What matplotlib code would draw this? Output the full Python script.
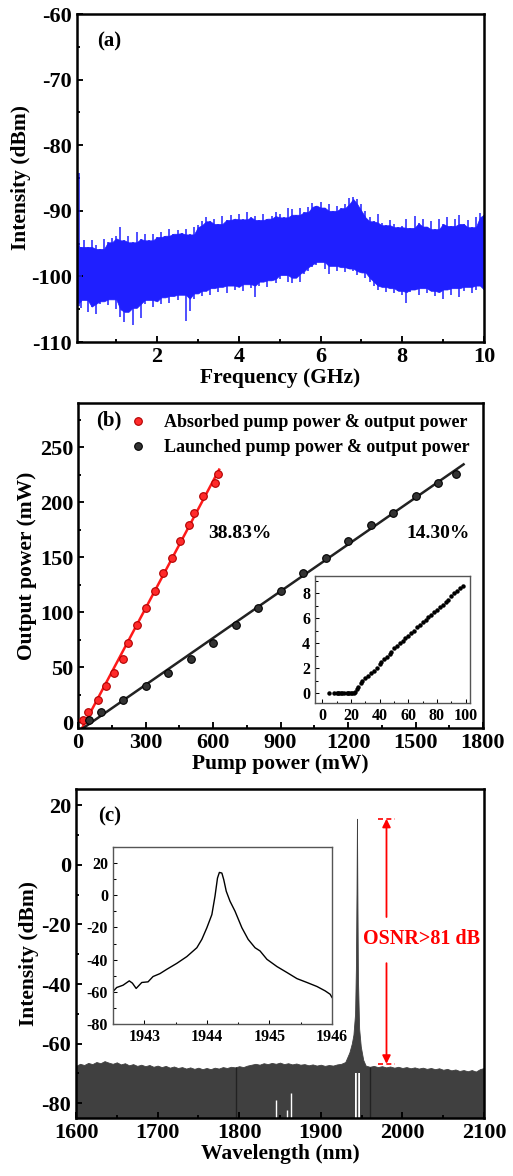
import numpy as np
import matplotlib
matplotlib.use("Agg")
import matplotlib.pyplot as plt
from matplotlib.ticker import MultipleLocator

plt.rcParams["font.family"] = ["Liberation Serif", "DejaVu Serif"]
plt.rcParams["font.weight"] = "bold"
plt.rcParams["axes.labelweight"] = "bold"
plt.rcParams["axes.unicode_minus"] = False

# ---------------- (a) RF spectrum: upper / lower envelope of the noise trace
freq_a = [0.05, 0.1, 0.15, 0.2, 0.3, 0.4, 0.5, 0.6, 0.7, 0.8, 0.9, 1.0,
          1.1, 1.2, 1.3, 1.4, 1.5, 1.6, 1.7, 1.8, 1.9, 2.0,
          2.1, 2.2, 2.3, 2.4, 2.5, 2.6, 2.7, 2.8, 2.9, 3.0,
          3.1, 3.2, 3.3, 3.4, 3.5, 3.6, 3.7, 3.8, 3.9, 4.0,
          4.1, 4.2, 4.3, 4.4, 4.5, 4.6, 4.7, 4.8, 4.9, 5.0,
          5.1, 5.2, 5.3, 5.4, 5.5, 5.6, 5.7, 5.8, 5.9, 6.0,
          6.1, 6.2, 6.3, 6.4, 6.5, 6.6, 6.7, 6.8, 6.9, 7.0,
          7.1, 7.2, 7.3, 7.4, 7.5, 7.6, 7.7, 7.8, 7.9, 8.0,
          8.1, 8.2, 8.3, 8.4, 8.5, 8.6, 8.7, 8.8, 8.9, 9.0,
          9.1, 9.2, 9.3, 9.4, 9.5, 9.6, 9.7, 9.8, 9.9, 10.0]
upper_a = [-95, -84.3, -95.5, -94.5, -95.5, -94.5, -95.2, -95.8, -94.3, -94.8, -94.2, -93.8,
           -92.5, -94.5, -93.8, -94.8, -93.2, -94.3, -93.5, -94.5, -93.6, -94,
           -93.2, -93.8, -92.8, -93.5, -93, -93.4, -92.8, -93.6, -92.5, -92.2,
           -91.5, -91, -91.6, -91.2, -92, -90.8, -91.4, -90.6, -91.2, -90.5,
           -91.3, -90.2, -91, -90.8, -91.4, -90.5, -91.2, -90.8, -90.2, -90.5,
           -91, -89.5, -89.8, -90.6, -89.6, -90.2, -89.4, -88.8, -89.2, -88.6,
           -89.5, -89, -90, -89.2, -89.6, -89, -88, -87.9, -88.2, -89,
           -90, -91, -91.6, -90.5, -91.8, -92.2, -91.4, -92, -92.5, -92.3,
           -91.2, -92.6, -90.8, -91.9, -91.2, -92.4, -91.5, -92.8, -91.3, -92,
           -91, -92.3, -91.2, -90.6, -92, -91.4, -92.5, -91, -90.4, -90.6]
lower_a = [-104, -104.5, -104.8, -103.6, -105.4, -104.6, -105.7, -104.2, -103.8, -104.4, -103.5, -105,
           -106.2, -107, -105.4, -107.4, -104.8, -106.3, -104.2, -103.6, -104.6, -103.8,
           -104.2, -103.2, -104, -103, -103.6, -102.8, -106.8, -105.2, -103.4, -102.6,
           -103, -102.2, -102.8, -101.8, -102.4, -101.6, -102.6, -101.4, -102, -101.6,
           -102.2, -101.2, -101.8, -103.1, -101.4, -100.8, -101.6, -100.6, -101, -100.4,
           -99.8, -100.8, -101, -100.2, -100.8, -99.6, -99.2, -98.6, -98.2, -97.8,
           -98.8, -99.6, -98.4, -99.2, -98.6, -99.4, -98.8, -99.2, -99.8, -99.4,
           -100.2, -100.8, -101.4, -102, -101.6, -102.4, -101.8, -102.6, -102.2, -102.8,
           -104.1, -102.4, -102, -102.8, -101.8, -102.6, -102.2, -103, -102.4, -103.4,
           -102, -102.8, -101.8, -103.2, -102.2, -101.6, -102.6, -102, -101.4, -102]

# ---------------- (b) slope efficiency
output_power = [2.7, 9.6, 20.7, 33, 44.7, 57.5, 72, 88.4, 104, 119.6,
                135.5, 149.6, 165, 179, 190, 206, 217, 226]
absorbed_pump = [21, 45, 88, 125, 160, 202, 223, 263, 300, 340,
                 377, 416, 453, 493, 516, 554, 608, 624]
launched_pump = [50, 100, 200, 300, 400, 500, 600, 700, 800, 900,
                 1000, 1100, 1200, 1300, 1400, 1500, 1600, 1680]
eff_labels = ["38.83%", "14.30%"]

# inset (b): low power threshold region
inset_pump = [5, 8, 10, 11, 12, 13, 14, 15, 17, 18, 19, 20, 21, 22,
              23, 24, 25, 27, 28, 30, 32, 34, 36, 38, 40, 41, 43, 45, 47, 48,
              50, 52, 54, 56, 58, 60, 62, 64, 66, 68, 70, 72, 74, 76, 78,
              80, 82, 84, 86, 88, 90, 92, 94, 96, 98]
inset_out = [0, 0, 0, 0, 0, 0, 0, 0, 0, 0, 0, 0, 0, 0,
             0.1, 0.3, 0.5, 0.8, 1.0, 1.2, 1.4, 1.6, 1.8, 2.0, 2.3, 2.5, 2.7, 2.9, 3.1, 3.3,
             3.6, 3.8, 4.0, 4.2, 4.4, 4.6, 4.8, 5.0, 5.3, 5.5, 5.7, 5.9, 6.1, 6.3, 6.5,
             6.7, 6.9, 7.1, 7.3, 7.5, 7.8, 8.0, 8.2, 8.4, 8.6]

# ---------------- (c) optical spectrum (noise floor envelope incl. laser line)
wl_c = [1600, 1605, 1610, 1615, 1620, 1625, 1630, 1635, 1640, 1645, 1650, 1655, 1660, 1665,
        1670, 1675, 1680, 1685, 1690, 1695, 1700, 1705, 1710, 1715, 1720, 1725, 1730, 1735,
        1740, 1745, 1750, 1755, 1760, 1765, 1770, 1775, 1780, 1785, 1790, 1795, 1800, 1805,
        1810, 1815, 1820, 1825, 1830, 1835, 1840, 1845, 1850, 1855, 1860, 1865, 1870, 1875,
        1880, 1885, 1890, 1895, 1900, 1905, 1910, 1915, 1920, 1925, 1930, 1935, 1938, 1940,
        1942, 1943, 1943.8, 1944.3, 1944.8, 1945.5, 1947, 1949, 1952, 1955, 1960, 1965, 1970,
        1975, 1980, 1985, 1990, 1995, 2000, 2005, 2010, 2015, 2020, 2025, 2030, 2035, 2040,
        2045, 2050, 2055, 2060, 2065, 2070, 2075, 2080, 2085, 2090, 2095, 2100]
db_c = [-67.5, -66.8, -67.2, -66.5, -66.9, -66.2, -66.6, -65.9, -66.4, -66.8, -66.3, -67, -66.6, -67.3,
        -66.9, -67.5, -67.1, -67.6, -67.2, -67.8, -67.4, -67.9, -67.5, -68.1, -67.7, -68.2, -67.9, -68.4,
        -68, -68.5, -68.1, -68.6, -68.2, -68.6, -68.1, -68.4, -67.9, -68.2, -67.8, -68, -67.6, -67.9,
        -67.4, -67.1, -66.8, -67.1, -66.6, -66.9, -66.5, -66.8, -66.4, -66.9, -66.6, -67, -66.7, -67.1,
        -66.9, -67.3, -67, -67.4, -67.1, -67.5, -67.2, -67.4, -67, -66.8, -66.2, -63, -60, -57,
        -50, -35, -8, 15.5, -8, -38, -55, -61, -65.5, -67.4, -67.8, -67.5, -67.9,
        -67.6, -68, -67.7, -68.1, -67.8, -68.2, -67.9, -68.3, -68, -68.4, -68.1, -68.5, -68.2, -68.6,
        -68.3, -68.8, -68.5, -69, -68.7, -69.2, -68.9, -69.3, -68.9, -69.4, -68.6, -68.2]
gap_wl = [1845, 1859, 1864]
gap_db = [-78.8, -82.2, -76.6]
dark_wl = [1796, 1960]
osnr_top = 15.5
osnr_bottom = -66.8

# inset (c): zoom of the laser line
wl_in = [1942.5, 1942.56, 1942.66, 1942.76, 1942.81, 1942.87, 1942.96, 1943.06, 1943.14,
         1943.25, 1943.36, 1943.52, 1943.68, 1943.84, 1943.92, 1944.0, 1944.08, 1944.13,
         1944.17, 1944.2, 1944.24, 1944.27, 1944.31, 1944.37, 1944.45, 1944.56, 1944.66,
         1944.77, 1944.85, 1944.96, 1945.12, 1945.28, 1945.44, 1945.6, 1945.76, 1945.89,
         1945.97, 1946.0]
db_in = [-59.8, -57.3, -55.9, -53.2, -54.6, -57.9, -54.2, -53.8, -50.5,
         -48.7, -46, -42.3, -38.1, -32.6, -27.4, -20.2, -12, -0.6,
         10.7, 14.2, 13.8, 9.7, 2.5, -3.7, -9.9, -20.2, -27.4,
         -32.6, -34.6, -39.8, -44.3, -48, -51.8, -54.2, -56.7, -59.4,
         -61.5, -63.5]

W, H = 513, 1176
fig = plt.figure(figsize=(W / 100, H / 100), dpi=100)


def frac(left, top, right, bottom):
    return [left / W, 1 - bottom / H, (right - left) / W, (bottom - top) / H]


def style(ax, lw=1.8, size=16, major=4, minor=2.5):
    for s in ax.spines.values():
        s.set_linewidth(lw)
    ax.tick_params(which="both", direction="in", top=False, right=False,
                   labelsize=size, width=lw * 0.75)
    ax.tick_params(which="major", length=major)
    ax.tick_params(which="minor", length=minor)


# ---- (a)
ax1 = fig.add_axes(frac(77, 14, 484, 342))
up = np.array(upper_a)
lo = np.array(lower_a)
# dense body of the trace: trim single-sample spikes, spikes drawn as thin strokes
core_up = np.minimum(up, np.minimum(np.roll(up, 1), np.roll(up, -1)))
core_lo = np.maximum(lo, np.maximum(np.roll(lo, 1), np.roll(lo, -1)))
core_up[0], core_lo[0] = up[0], lo[0]
core_up[-1], core_lo[-1] = up[-1], lo[-1]
blue = "#1f1fff"
ax1.fill_between(freq_a, core_lo, core_up, color=blue, lw=0.5, edgecolor=blue)
ax1.vlines(freq_a, lo, up, color=blue, lw=1.1)
ax1.set_xlim(0.04, 10)
ax1.set_ylim(-110, -60)
ax1.xaxis.set_major_locator(MultipleLocator(2))
ax1.xaxis.set_minor_locator(MultipleLocator(1))
ax1.yaxis.set_major_locator(MultipleLocator(10))
ax1.yaxis.set_minor_locator(MultipleLocator(5))
ax1.set_xlabel("Frequency (GHz)", fontsize=15.5, labelpad=1)
ax1.set_ylabel("Intensity (dBm)", fontsize=15.5, labelpad=0)
ax1.text(0.05, 0.9, "(a)", transform=ax1.transAxes, fontsize=15)
style(ax1)

# ---- (b)
ax2 = fig.add_axes(frac(78, 403, 483, 728))
y_lo, y_hi = -5, 290
for xs, col, ext in [(absorbed_pump, "#ff1a1a", 1.005), (launched_pump, "#222222", 1.02)]:
    m, b = np.polyfit(xs, output_power, 1)
    x0 = (y_lo - b) / m
    x1 = max(xs) * ext
    ax2.plot([x0, x1], [m * x0 + b, m * x1 + b], color=col, lw=1.8, zorder=2)
ax2.plot(absorbed_pump, output_power, "o", ls="none", ms=5.5, mfc="#ff2a2a", mec="#b00000",
         mew=0.8, label="Absorbed pump power & output power", zorder=3)
ax2.plot(launched_pump, output_power, "o", ls="none", ms=5.5, mfc="#333333", mec="#000000",
         mew=0.8, label="Launched pump power & output power", zorder=3)
ax2.set_xlim(0, 1800)
ax2.set_ylim(y_lo, y_hi)
ax2.xaxis.set_major_locator(MultipleLocator(300))
ax2.xaxis.set_minor_locator(MultipleLocator(150))
ax2.yaxis.set_major_locator(MultipleLocator(50))
ax2.yaxis.set_minor_locator(MultipleLocator(25))
ax2.set_xlabel("Pump power (mW)", fontsize=15.5, labelpad=1)
ax2.set_ylabel("Output power (mW)", fontsize=15.5, labelpad=2)
ax2.text(0.045, 0.93, "(b)", transform=ax2.transAxes, fontsize=15)
ax2.text(0.4, 0.6, eff_labels[0], transform=ax2.transAxes, fontsize=14, ha="center", va="center")
ax2.text(0.888, 0.6, eff_labels[1], transform=ax2.transAxes, fontsize=14, ha="center", va="center")
ax2.legend(loc="upper left", bbox_to_anchor=(0.095, 1.005), frameon=False, fontsize=13,
           handlelength=1.0, handletextpad=0.95, labelspacing=0.45, borderpad=0.2)
style(ax2)

ax2i = fig.add_axes(frac(315, 576, 470, 703))
ax2i.plot(inset_pump, inset_out, "o", ls="none", ms=2.2, color="black")
ax2i.set_xlim(-5, 103)
ax2i.set_ylim(-0.8, 9.4)
ax2i.xaxis.set_major_locator(MultipleLocator(20))
ax2i.xaxis.set_minor_locator(MultipleLocator(10))
ax2i.yaxis.set_major_locator(MultipleLocator(2))
ax2i.yaxis.set_minor_locator(MultipleLocator(1))
style(ax2i, lw=1.0, size=11.5, major=3, minor=1.8)
for s in ax2i.spines.values():
    s.set_color("#555555")

# ---- (c)
ax3 = fig.add_axes(frac(76, 789, 484, 1118))
c_lo = -85
ax3.fill_between(wl_c, c_lo, db_c, color="#404040", lw=0.6, edgecolor="#404040")
ax3.vlines(dark_wl, c_lo, -68, color="#222222", lw=1.0)
ax3.fill_between([1942.3, 1948.3], c_lo, -70, color="white", lw=0)
ax3.vlines(gap_wl, c_lo, gap_db, color="white", lw=1.0)
ax3.vlines([wl_c[db_c.index(max(db_c))]], c_lo, -68, color="#404040", lw=1.0)
ax3.set_xlim(1600, 2100)
ax3.set_ylim(c_lo, 25.5)
ax3.xaxis.set_major_locator(MultipleLocator(100))
ax3.xaxis.set_minor_locator(MultipleLocator(50))
ax3.yaxis.set_major_locator(MultipleLocator(20))
ax3.yaxis.set_minor_locator(MultipleLocator(10))
ax3.set_xlabel("Wavelength (nm)", fontsize=15.5, labelpad=1)
ax3.set_ylabel("Intensity (dBm)", fontsize=15.5, labelpad=2)
ax3.text(0.055, 0.9, "(c)", transform=ax3.transAxes, fontsize=15)

# OSNR annotation
x_arrow = 1980.5
ax3.hlines([osnr_top, osnr_bottom], 1970, 1991, colors="red", linestyles=(0, (3, 2)), lw=1.2)
ax3.annotate("", xy=(x_arrow, osnr_top), xytext=(x_arrow, -17.5),
             arrowprops=dict(arrowstyle="-|>", color="red", lw=1.3, mutation_scale=12,
                             shrinkA=0, shrinkB=0))
ax3.annotate("", xy=(x_arrow, osnr_bottom), xytext=(x_arrow, -33),
             arrowprops=dict(arrowstyle="-|>", color="red", lw=1.3, mutation_scale=12,
                             shrinkA=0, shrinkB=0))
ax3.text(2024, -25, "OSNR>81 dB", color="red", fontsize=14.5, ha="center", va="center")
style(ax3)

ax3i = fig.add_axes(frac(113, 847, 332, 1024))
ax3i.plot(wl_in, db_in, color="black", lw=1.0)
ax3i.set_xlim(1942.5, 1946)
ax3i.set_ylim(-80, 30)
ax3i.xaxis.set_major_locator(MultipleLocator(1))
ax3i.xaxis.set_minor_locator(MultipleLocator(0.5))
ax3i.yaxis.set_major_locator(MultipleLocator(20))
ax3i.yaxis.set_minor_locator(MultipleLocator(10))
style(ax3i, lw=1.0, size=11.5, major=3, minor=1.8)
for s in ax3i.spines.values():
    s.set_color("#555555")

fig.savefig("out.png", dpi=100)
